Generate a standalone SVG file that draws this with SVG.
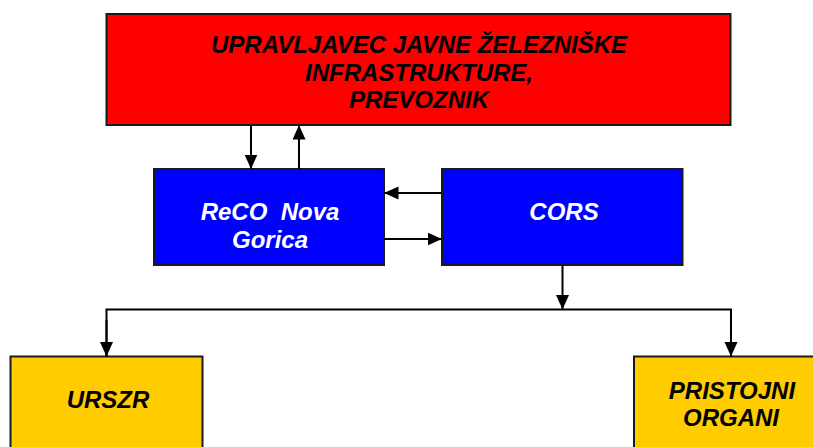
<svg xmlns="http://www.w3.org/2000/svg" width="813" height="447" viewBox="0 0 813 447">
<defs>
<marker id="ah" markerUnits="userSpaceOnUse" markerWidth="15" markerHeight="14" refX="14.5" refY="6.5" orient="auto">
<path d="M0,0 L14.5,6.5 L0,13 z" fill="#000"/>
</marker>
<style>
.box{stroke:#1a1a1a;stroke-width:2}
.t{font-family:"Liberation Sans",Arial,sans-serif;font-weight:bold;font-style:italic;font-size:24px;text-anchor:middle;white-space:pre}
.dk{fill:#000}
.wh{fill:#fff}
.c{fill:none;stroke:#000;stroke-width:2}
</style>
</defs>
<rect width="813" height="447" fill="#fff"/>
<g id="upravljavec">
<rect class="box" x="106.5" y="14" width="624" height="111" fill="#ff0000"/>
<text class="t dk" x="419" y="53">UPRAVLJAVEC JAVNE ŽELEZNIŠKE</text>
<text class="t dk" x="419" y="81">INFRASTRUKTURE,</text>
<text class="t dk" x="419" y="108">PREVOZNIK</text>
</g>
<g id="reco">
<rect class="box" x="154" y="169" width="230" height="96" fill="#0000ff"/>
<text class="t wh" x="270" y="220">ReCO  Nova</text>
<text class="t wh" x="270" y="248">Gorica</text>
</g>
<g id="cors">
<rect class="box" x="442" y="169" width="240.5" height="96" fill="#0000ff"/>
<text class="t wh" x="564" y="220">CORS</text>
</g>
<g id="urszr">
<rect class="box" x="10.5" y="356.5" width="192" height="110" fill="#ffcc00"/>
<text class="t dk" x="108" y="408">URSZR</text>
</g>
<g id="pristojni">
<rect class="box" x="634" y="356.5" width="200" height="110" fill="#ffcc00"/>
<text class="t dk" x="732" y="399">PRISTOJNI</text>
<text class="t dk" x="731" y="426">ORGANI</text>
</g>
<g id="connectors">
<line class="c" x1="251" y1="125" x2="251" y2="169" marker-end="url(#ah)"/>
<line class="c" x1="299" y1="169" x2="299" y2="125" marker-end="url(#ah)"/>
<line class="c" x1="442" y1="193" x2="384" y2="193" marker-end="url(#ah)"/>
<line class="c" x1="384" y1="239" x2="442" y2="239" marker-end="url(#ah)"/>
<line class="c" x1="562.5" y1="265" x2="562.5" y2="309.5" marker-end="url(#ah)"/>
<polyline class="c" points="106.5,356.5 106.5,309.5 731,309.5 731,356.5" stroke-linejoin="miter"/>
<line class="c" x1="106.5" y1="320" x2="106.5" y2="356.5" marker-end="url(#ah)"/>
<line class="c" x1="731" y1="320" x2="731" y2="356.5" marker-end="url(#ah)"/>
</g>
</svg>
